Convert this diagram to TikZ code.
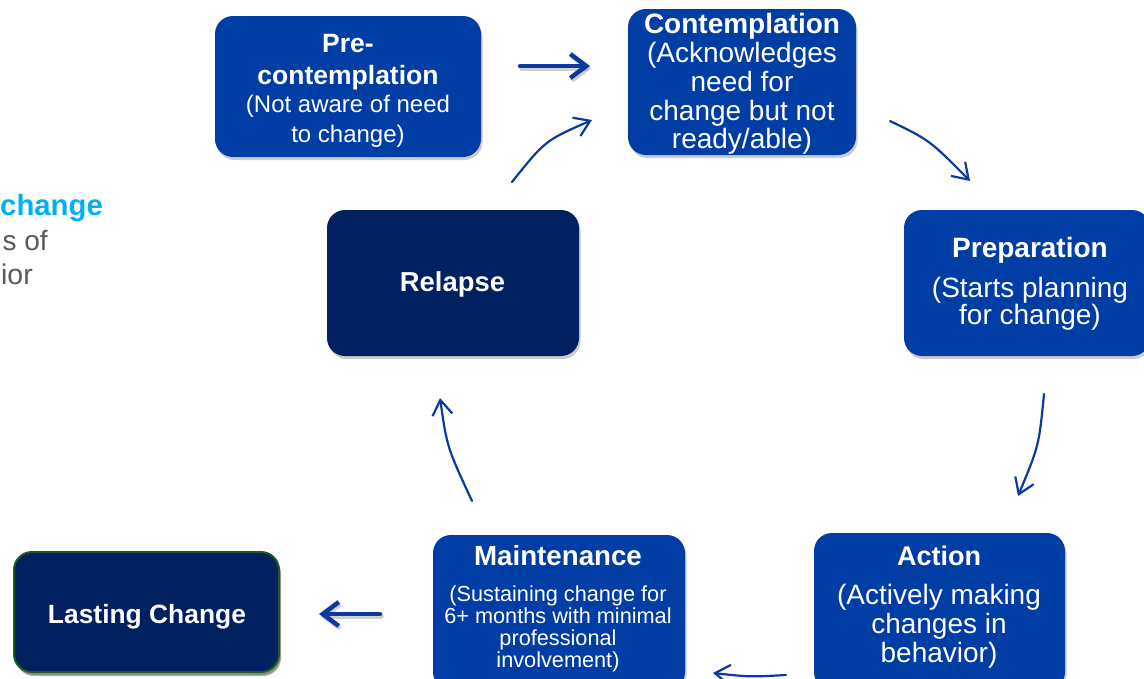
\documentclass[tikz,border=0pt]{standalone}
\usepackage{fontspec}
\setmainfont{Liberation Sans}
\usetikzlibrary{arrows.meta,shadows}
\definecolor{boxblue}{HTML}{003DA5}
\definecolor{navy}{HTML}{002060}
\definecolor{arrblue}{HTML}{0A3A9E}
\definecolor{cyanT}{HTML}{00B0F0}
\definecolor{grayT}{HTML}{595959}
\definecolor{lcgreen}{HTML}{1E5A1E}
\newcommand\fsz[2]{\fontsize{#1}{#2}\selectfont}
\begin{document}
\begin{tikzpicture}[x=1pt,y=-1pt,
  stagebox/.style={rectangle, rounded corners=18pt, fill=boxblue, draw=none, inner sep=0pt,
    drop shadow={shadow xshift=1.5pt, shadow yshift=-3pt, opacity=.2, fill=black}},
  darkbox/.style={stagebox, fill=navy},
  txt/.style={text=white, align=center, inner sep=0pt},
  curv/.style={draw=arrblue, line width=2.2pt, line cap=round, line join=round,
    -{Straight Barb[length=15pt,width=20pt]}},
  bigarr/.style={draw=arrblue, line width=4.5pt, line cap=round, line join=round,
    -{Straight Barb[length=16pt,width=24pt]}},
  arrshadow/.style={draw=black, opacity=.18, transform canvas={xshift=1.5pt,yshift=-2.5pt}}
]
\useasboundingbox (0,0) rectangle (1144,678);

% left clipped text
\node[anchor=base east, inner sep=0pt, text=cyanT, font=\fsz{29.3}{29}\bfseries] (lchange) at (103,215) {change};
\node[anchor=base east, inner sep=0pt, text=grayT, font=\fsz{28}{29}] (lsof) at (48,250) {s of};
\node[anchor=base east, inner sep=0pt, text=grayT, font=\fsz{28.5}{29}] (lior) at (33,284) {ior};

% boxes
\node[stagebox, minimum width=266pt, minimum height=141pt] (pre) at (348,86.5) {};
\node[stagebox, minimum width=228pt, minimum height=146pt] (con) at (742,82) {};
\node[stagebox, minimum width=246pt, minimum height=146pt] (prep) at (1027,283) {};
\node[darkbox, minimum width=252pt, minimum height=146pt] (rel) at (453,283) {};
\node[stagebox, minimum width=251pt, minimum height=157pt] (act) at (939.5,611.5) {};
\node[stagebox, minimum width=252pt, minimum height=155pt] (main) at (559,612.5) {};
\node[darkbox, draw=lcgreen, line width=2pt, minimum width=265pt, minimum height=120pt,
  drop shadow={shadow xshift=2pt, shadow yshift=-4pt, opacity=.3, fill=black}] (last) at (146.5,612) {};

% texts
\node[txt, font=\fsz{24}{29}] (pretxt) at (348,91)
  {\textbf{\fsz{26.5}{29}Pre-}\\[3pt]\textbf{\fsz{26.5}{29}contemplation}\\[-1pt](Not aware of need\\[1pt]to change)};
\node[txt, font=\fsz{28}{29}] (contxt) at (742,83.5)
  {\textbf{Contemplation}\\(Acknowledges\\need for\\change but not\\[-1pt]ready/able)};
\node[txt, font=\fsz{28}{28}] (preptxt) at (1030,283.5)
  {\textbf{Preparation}\\[12pt](Starts planning\\[-1pt]for change)};
\node[txt, font=\fsz{27.4}{29}\bfseries] (reltxt) at (452.5,284.5) {Relapse};
\node[txt, font=\fsz{28}{29}] (acttxt) at (939,607)
  {\textbf{\fsz{27}{29}Action}\\[10pt](Actively making\\changes in\\behavior)};
\node[txt, font=\fsz{21.7}{22}] (maintxt) at (558,609)
  {\textbf{\fsz{27.7}{22}Maintenance}\\[14pt](Sustaining change for\\6+ months with minimal\\professional\\involvement)};
\node[txt, font=\fsz{26.4}{29}\bfseries] (lasttxt) at (147,617) {Lasting Change};

% arrow end points
\coordinate (a1s) at (520,66);   \coordinate (a1e) at (590,66);
\coordinate (a2s) at (890,121);  \coordinate (a2e) at (970,181);
\coordinate (a3s) at (1044,394); \coordinate (a3e) at (1018,496);
\coordinate (a4s) at (786,675);  \coordinate (a4e) at (713,673);
\coordinate (a5s) at (472,501);  \coordinate (a5e) at (440,398);
\coordinate (a6s) at (512,182);  \coordinate (a6e) at (592,120);
\coordinate (a7s) at (380,614);  \coordinate (a7e) at (319,614);

% straight arrows with shadow
\draw[bigarr, arrshadow] (a1s) -- (a1e);
\draw[bigarr] (a1s) -- (a1e);
\draw[bigarr, arrshadow] (a7s) -- (a7e);
\draw[bigarr] (a7s) -- (a7e);

% curved arrows
\draw[curv] (a2s) .. controls (929.8,140.3) .. (a2e);
\draw[curv] (a3s) .. controls (1039,445.5) .. (a3e);
\draw[curv] (a4s) .. controls (750,677) .. (a4e);
\draw[curv] (a5s) .. controls (447,447) .. (a5e);
\draw[curv] (a6s) .. controls (545.2,140.5) .. (a6e);
\end{tikzpicture}
\end{document}
